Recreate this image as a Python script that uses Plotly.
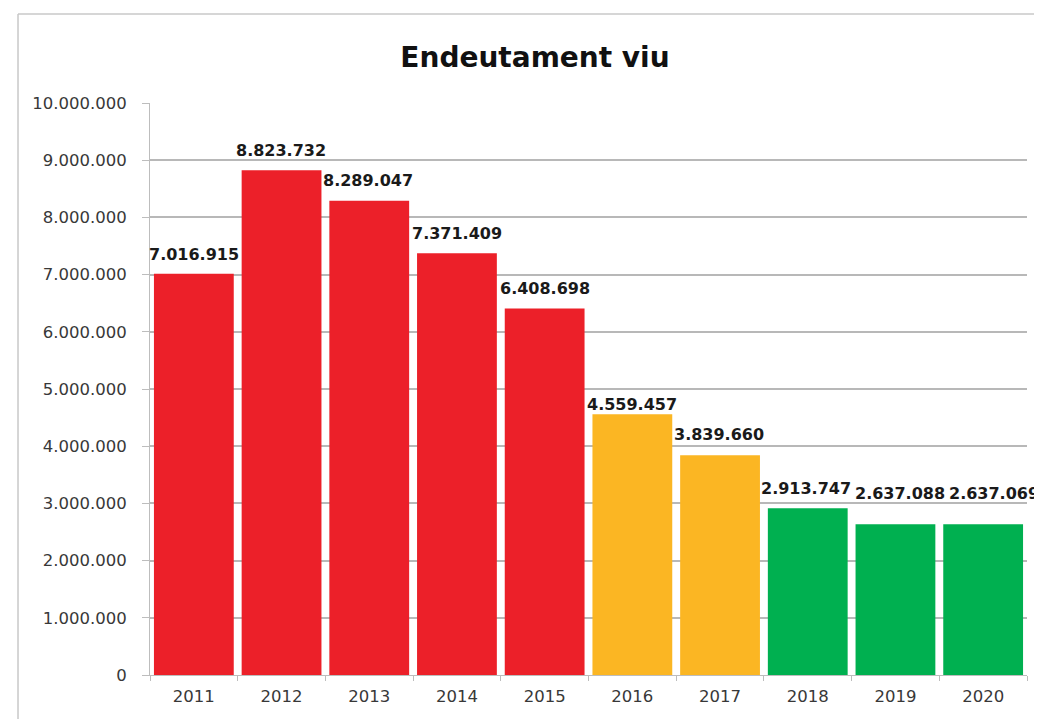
import plotly.graph_objects as go

years = ["2011", "2012", "2013", "2014", "2015", "2016", "2017", "2018", "2019", "2020"]
debt = [7016915, 8823732, 8289047, 7371409, 6408698, 4559457, 3839660, 2913747, 2637088, 2637069]
bar_colors = ["#EC2029"] * 5 + ["#FBB623"] * 2 + ["#00B050"] * 3
y_ticks = list(range(0, 10000001, 1000000))

# label nudges (pixels), as in the original chart where some labels were moved by hand
label_dx = [0, -1, -1, 0, 0, 0, -1, -2, 5, 11]
label_dy = [8, 8, 9, 8, 8, -2, 9, 8, 19, 19]

FONT = "DejaVu Sans"

fig = go.Figure()
fig.add_trace(go.Bar(
    x=years, y=debt,
    marker=dict(color=bar_colors, line=dict(width=0)),
    width=0.91,
    cliponaxis=False,
    hoverinfo="x+y",
))

annotations = []
for i, v in enumerate(debt):
    annotations.append(dict(
        x=i, y=v, xref="x", yref="y",
        text=f"{v:,}".replace(",", "."),
        showarrow=False, yanchor="bottom",
        xshift=label_dx[i], yshift=label_dy[i],
        font=dict(family=FONT, size=16, color="#1a1a1a", weight="bold"),
    ))

# page has an 8px body margin, so figure is sized/offset accordingly
fig.update_layout(
    width=1034, height=711,
    margin=dict(l=142, r=15, t=95, b=44, autoexpand=False),
    paper_bgcolor="white", plot_bgcolor="white",
    separators=",.",
    showlegend=False,
    title=dict(text="<b>Endeutament viu</b>", x=527 / 1034, xref="container", xanchor="center",
               y=1 - 49 / 711, yref="container", yanchor="middle",
               font=dict(family=FONT, size=28, color="#111111")),
    annotations=annotations,
    shapes=[
        dict(type="line", xref="paper", yref="paper", x0=-0.1505, x1=1.05, y0=1.1556, y1=1.1556,
             line=dict(color="#c8c8c8", width=1.5)),
        dict(type="line", xref="paper", yref="paper", x0=-0.1505, x1=-0.1505, y0=1.1556, y1=-0.1,
             line=dict(color="#c8c8c8", width=1.5)),
    ],
)

fig.update_yaxes(
    range=[0, 10000000], tickvals=y_ticks, tickformat=",d",
    showgrid=True, gridcolor="#b8b8b8", gridwidth=1.5,
    showline=True, linecolor="#bdbdbd", linewidth=1,
    ticks="outside", ticklen=7, tickcolor="#bdbdbd",
    ticklabelstandoff=12,
    tickfont=dict(family=FONT, size=16.5, color="#383838"),
    zeroline=False,
)
fig.update_xaxes(
    type="category", range=[-0.5, 9.5],
    showline=True, linecolor="#bdbdbd", linewidth=1,
    ticks="outside", ticklen=5, tickcolor="#bdbdbd", tickson="boundaries",
    ticklabelstandoff=6, tickangle=0,
    tickfont=dict(family=FONT, size=16.5, color="#383838"),
    showgrid=False,
)

fig.write_html("out.html")
